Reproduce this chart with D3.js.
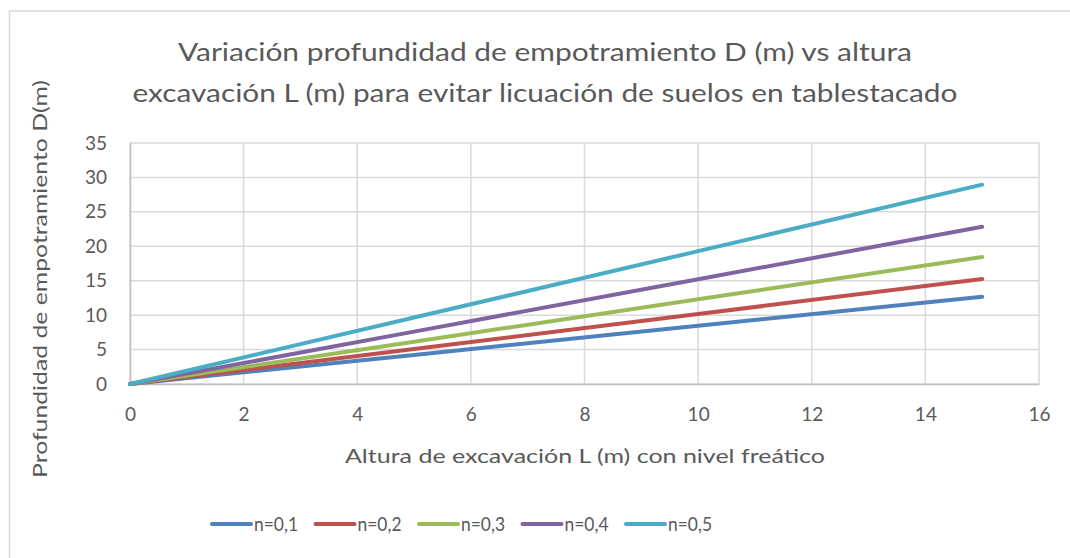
<!DOCTYPE html>
<html>
<head>
<meta charset="utf-8">
<script src="https://cdn.jsdelivr.net/npm/d3@7"></script>
<style>
  html, body { margin: 0; padding: 0; background: #fff; }
  svg { display: block; }
  text { font-family: Lato, "Open Sans", "Liberation Sans", sans-serif; fill: #595959; }
</style>
</head>
<body>
<svg id="chart" width="1070" height="558"></svg>
<script>
// Excavation height L (m)
const alturaL = [0, 5, 10, 15];
// Embedment depth D (m) for each n
const serieN01 = [0, 4.22, 8.45, 12.67];
const serieN02 = [0, 5.08, 10.17, 15.25];
const serieN03 = [0, 6.15, 12.30, 18.45];
const serieN04 = [0, 7.61, 15.22, 22.83];
const serieN05 = [0, 9.65, 19.30, 28.95];
const seriesNames = ["n=0,1", "n=0,2", "n=0,3", "n=0,4", "n=0,5"];
const seriesColors = ["#4F81BD", "#C0504D", "#9BBB59", "#8064A2", "#4BACC6"];
const xTicks = [0, 2, 4, 6, 8, 10, 12, 14, 16];
const yTicks = [0, 5, 10, 15, 20, 25, 30, 35];

const series = [serieN01, serieN02, serieN03, serieN04, serieN05].map((vals, i) => ({
  name: seriesNames[i],
  color: seriesColors[i],
  points: vals.map((d, j) => ({ x: alturaL[j], y: d }))
}));

const svg = d3.select("#chart");

// chart frame
svg.append("rect")
  .attr("x", 9.5).attr("y", 11)
  .attr("width", 1080).attr("height", 570)
  .attr("fill", "#fff").attr("stroke", "#D9D9D9").attr("stroke-width", 1.5);

const plot = { left: 130, right: 1039, top: 143, bottom: 384 };
const x = d3.scaleLinear().domain([0, 16]).range([plot.left, plot.right]);
const y = d3.scaleLinear().domain([0, 35]).range([plot.bottom, plot.top]);

// gridlines
const grid = svg.append("g");
grid.selectAll("line.h").data(yTicks).join("line")
  .attr("x1", plot.left).attr("x2", plot.right)
  .attr("y1", d => y(d)).attr("y2", d => y(d))
  .attr("stroke", "#D9D9D9").attr("stroke-width", 1.5);
grid.selectAll("line.v").data(xTicks).join("line")
  .attr("y1", plot.top).attr("y2", plot.bottom)
  .attr("x1", d => x(d)).attr("x2", d => x(d))
  .attr("stroke", "#D9D9D9").attr("stroke-width", 1.5);

// axes
const xAxis = svg.append("g")
  .attr("transform", `translate(0,${plot.bottom})`)
  .call(d3.axisBottom(x).tickValues(xTicks).tickSize(0).tickPadding(24).tickFormat(d3.format("d")));
const yAxis = svg.append("g")
  .attr("transform", `translate(${plot.left},0)`)
  .call(d3.axisLeft(y).tickValues(yTicks).tickSize(0).tickPadding(23).tickFormat(d3.format("d")));
[xAxis, yAxis].forEach(a => {
  a.select(".domain").attr("stroke", "#BFBFBF").attr("stroke-width", 1.5);
  a.selectAll("text").style("font-size", "19px").attr("fill", "#595959");
});

// series lines
const line = d3.line().x(d => x(d.x)).y(d => y(d.y));
svg.append("g").selectAll("path").data(series).join("path")
  .attr("d", d => line(d.points))
  .attr("fill", "none")
  .attr("stroke", d => d.color)
  .attr("stroke-width", 4)
  .attr("stroke-linecap", "round");

// title
const title = svg.append("text")
  .attr("text-anchor", "middle")
  .style("font-size", "25px");
title.append("tspan").attr("x", 545).attr("y", 61)
  .attr("textLength", 734).attr("lengthAdjust", "spacingAndGlyphs")
  .text("Variación profundidad de empotramiento D (m) vs altura");
title.append("tspan").attr("x", 545).attr("y", 102)
  .attr("textLength", 825).attr("lengthAdjust", "spacingAndGlyphs")
  .text("excavación L (m) para evitar licuación de suelos en tablestacado");

// axis titles
svg.append("text")
  .attr("x", 585).attr("y", 463)
  .attr("text-anchor", "middle")
  .attr("textLength", 480).attr("lengthAdjust", "spacingAndGlyphs")
  .style("font-size", "19px")
  .text("Altura de excavación L (m) con nivel freático");
svg.append("text")
  .attr("transform", "translate(47,279) rotate(-90)")
  .attr("text-anchor", "middle")
  .attr("textLength", 398).attr("lengthAdjust", "spacingAndGlyphs")
  .style("font-size", "19px")
  .text("Profundidad de empotramiento D(m)");

// legend
const legend = svg.append("g").selectAll("g").data(series).join("g")
  .attr("transform", (d, i) => `translate(${212 + i * 103.5},524)`);
legend.append("line")
  .attr("x1", 0).attr("x2", 39).attr("y1", 0).attr("y2", 0)
  .attr("stroke", d => d.color).attr("stroke-width", 4).attr("stroke-linecap", "round");
legend.append("text")
  .attr("x", 42).attr("y", 6.5)
  .style("font-size", "19px")
  .attr("textLength", 44).attr("lengthAdjust", "spacingAndGlyphs")
  .text(d => d.name);
</script>
</body>
</html>
